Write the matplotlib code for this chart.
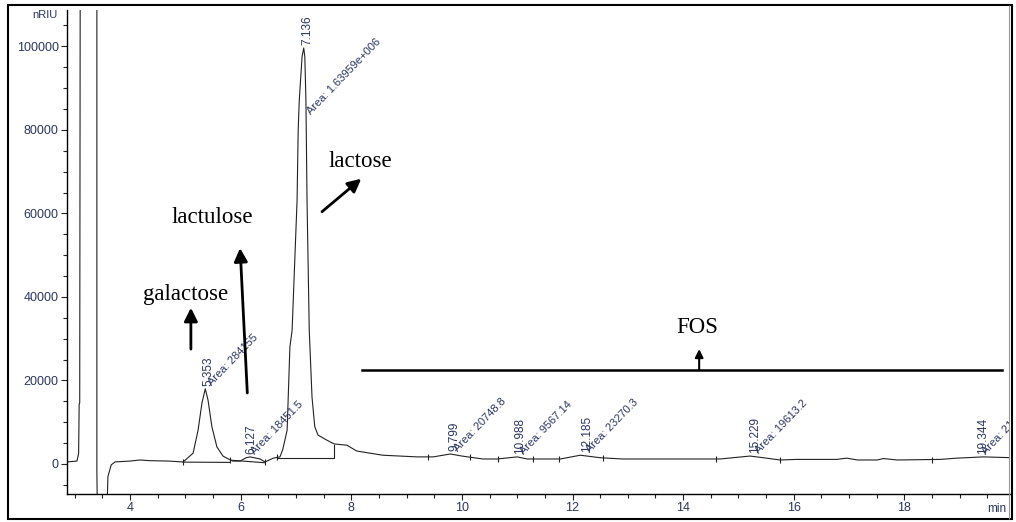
import numpy as np
import matplotlib
matplotlib.use("Agg")
import matplotlib.pyplot as plt
from matplotlib import font_manager
from matplotlib.patches import Rectangle
from matplotlib.ticker import MultipleLocator

# chromatogram trace (time in min, signal in nRIU)
time = [2.86, 3.04, 3.07, 3.08, 3.09, 3.10, 3.40, 3.40, 3.41, 3.58, 3.60, 3.66, 3.73,
        4.00, 4.18, 4.36, 4.70, 4.96, 5.14, 5.23, 5.30, 5.36, 5.41, 5.48, 5.57, 5.68,
        5.81, 5.86, 5.99, 6.10, 6.17, 6.35, 6.44, 6.59, 6.71, 6.76, 6.84, 6.86, 6.89,
        6.93, 7.02, 7.04, 7.06, 7.11, 7.14, 7.16, 7.18, 7.20, 7.24, 7.29, 7.34, 7.40,
        7.56, 7.69, 7.92, 8.10, 8.57, 9.19, 9.48, 9.66, 9.79, 10.00, 10.38, 10.64,
        11.00, 11.18, 11.78, 12.14, 12.50, 12.90, 14.67, 14.90, 15.21, 15.45, 15.75,
        16.06, 16.78, 16.96, 17.15, 17.51, 17.62, 17.87, 18.65, 18.95, 19.43, 19.96]
signal = [500, 700, 2500, 14400, 14600, 130000, 130000, -1800, -12000, -12000, -3000, -200, 500,
          700, 960, 790, 700, 480, 2600, 8100, 14600, 18000, 15300, 8900, 4100, 1900,
          960, 700, 700, 1500, 1700, 1200, 480, 1400, 1700, 3400, 8100, 16000, 28000,
          32000, 63200, 80000, 87200, 97500, 99600, 97500, 87000, 63000, 32000, 16000, 8900, 6900,
          5700, 4800, 4500, 3100, 2100, 1700, 1700, 2100, 2400, 1900, 1200, 1200,
          1700, 1200, 1200, 2100, 1500, 1200, 1200, 1500, 1900, 1500, 960,
          1100, 1100, 1400, 960, 960, 1300, 960, 1100, 1400, 1700, 1500]

# integrated peaks
peak_rt = [5.353, 6.127, 7.136, 9.799, 10.988, 12.185, 15.229, 19.344]
peak_top = [18000, 1700, 99600, 2400, 1700, 2100, 1900, 1700]
peak_area = ["284155", "18451.5", "1.63959e+006", "20748.8", "9567.14",
             "23270.3", "19613.2", "21846.2"]

# integration baselines
base_t = [[4.96, 5.81], [5.83, 6.44], [6.66, 7.69, 7.69]]
base_y = [[450, 380], [900, 300], [1440, 1440, 4550]]
mark_t = [4.96, 5.81, 6.44, 6.66, 9.39, 10.15, 10.65, 11.29, 11.75, 12.55,
          14.59, 15.75, 18.50, 19.96]

# compound labels
compounds = ["galactose", "lactulose", "lactose", "FOS"]
comp_xy = [(5.01, 39300), (5.48, 57700), (8.16, 71100), (14.25, 31400)]
arrow_tip = [(5.10, 37400), (5.99, 51700), (8.18, 68300), (14.29, 27500)]
arrow_tail = [(5.10, 27500), (6.12, 17000), (7.47, 60400), (14.29, 22500)]
fos_span = [8.20, 19.77]
fos_level = 22500

names = {f.name for f in font_manager.fontManager.ttflist}
narrow = "Liberation Sans Narrow" if "Liberation Sans Narrow" in names else "Liberation Sans"
tick_size = 10 if narrow == "Liberation Sans Narrow" else 9
lab_col = "#2b3560"

fig = plt.figure(figsize=(10.16, 5.22), dpi=100)
ax = fig.add_axes([67 / 1016, 28 / 522, 943 / 1016, 484 / 522])

ax.plot(time, signal, color="#222222", lw=0.8)
for bt, by in zip(base_t, base_y):
    ax.plot(bt, by, color="#222222", lw=0.8)
ax.plot(mark_t, np.interp(mark_t, time, signal), ls="none", marker="|",
        ms=5, mew=0.8, color="#222222")

for rt, top, area in zip(peak_rt, peak_top, peak_area):
    ax.annotate(f"{rt:.3f}", (rt, top), xytext=(4, 3), textcoords="offset pixels",
                rotation=90, ha="center", va="bottom", fontsize=8.5,
                family=narrow, color=lab_col, annotation_clip=False)
    ax.annotate("Area: " + area, (rt, min(top, 83000)), xytext=(9, 1),
                textcoords="offset pixels", rotation=46, rotation_mode="anchor",
                ha="left", va="bottom", fontsize=8, family=narrow,
                color=lab_col, clip_on=True)

for name, xy, tip, tail in zip(compounds, comp_xy, arrow_tip, arrow_tail):
    ax.text(xy[0], xy[1], name, ha="center", va="baseline",
            family="Liberation Serif", fontsize=16.5, color="black")
    small = name == "FOS"
    ax.annotate("", xy=tip, xytext=tail,
                arrowprops=dict(arrowstyle="-|>", color="black",
                                lw=1.5 if small else 2,
                                mutation_scale=12 if small else 20,
                                shrinkA=0, shrinkB=0))
ax.plot(fos_span, [fos_level, fos_level], color="black", lw=1.8)

ax.set_xlim(2.86, 19.91)
ax.set_ylim(-7185, 108700)
ax.xaxis.set_major_locator(MultipleLocator(2))
ax.xaxis.set_minor_locator(MultipleLocator(0.5))
ax.yaxis.set_major_locator(MultipleLocator(20000))
ax.yaxis.set_minor_locator(MultipleLocator(5000))
ax.tick_params(which="major", length=4.5, width=0.8, pad=1.5, labelsize=tick_size,
               labelcolor=lab_col, colors="#222222")
ax.tick_params(which="minor", length=2.8, width=0.8, colors="#222222")
for lbl in ax.get_xticklabels() + ax.get_yticklabels():
    lbl.set_family(narrow)
for side in ["top", "right"]:
    ax.spines[side].set_visible(False)
ax.spines["left"].set_linewidth(1)
ax.spines["bottom"].set_linewidth(1)

ax.text(-0.01, 107500, "nRIU", transform=ax.get_yaxis_transform(), ha="right",
        va="center", fontsize=tick_size - 1, family=narrow, color=lab_col)
ax.text(19.67, -0.03, "min", transform=ax.get_xaxis_transform(), ha="center",
        va="center", fontsize=tick_size - 0.5, family=narrow, color=lab_col)

fig.patches.append(Rectangle((8 / 1016, 3 / 522), 1004 / 1016, 514 / 522,
                             transform=fig.transFigure, fill=False,
                             edgecolor="black", lw=1.5))
fig.patches.append(Rectangle((1009 / 1016, 3 / 522), 0, 514 / 522,
                             transform=fig.transFigure, fill=False,
                             edgecolor="#999999", lw=0.8))

fig.savefig("out.png", dpi=100)
